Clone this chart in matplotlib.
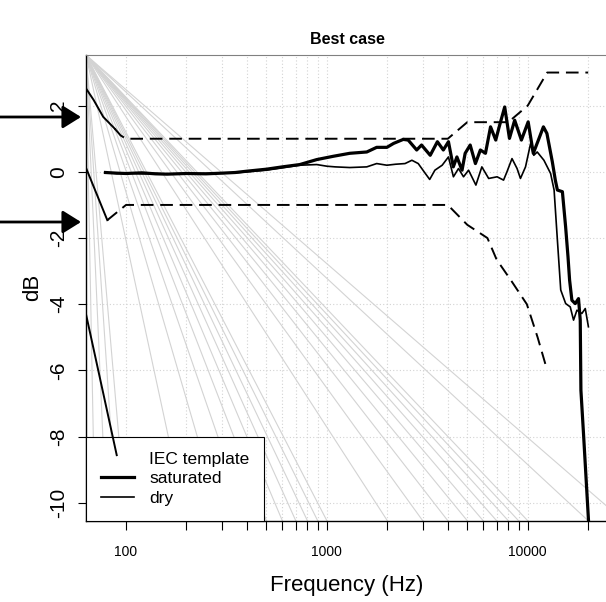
import matplotlib
matplotlib.use("Agg")
import matplotlib.pyplot as plt
from matplotlib.lines import Line2D
from matplotlib.ticker import NullFormatter

plt.rcParams['font.family'] = ['Liberation Sans', 'DejaVu Sans']

# measured response, saturated condition
sat_f = [79, 90, 100, 120, 140, 160, 200, 250, 300, 350, 400, 500, 600, 733, 890,
         1076, 1300, 1580, 1770, 1990, 2150, 2400, 2540, 2800, 2960, 3270, 3550,
         3800, 4030, 4260, 4440, 4710, 4880, 5170, 5490, 5810, 6160, 6530, 6930,
         7210, 7680, 8110, 8610, 9300, 10050, 10660, 11300, 11970, 12460, 13260,
         13720, 14050, 14880, 15440, 15870, 16160, 16590, 17240, 17900, 18260,
         18400, 18950, 20100]
sat_db = [-0.02, -0.04, -0.05, -0.03, -0.06, -0.07, -0.05, -0.06, -0.04, -0.02,
          0.02, 0.08, 0.15, 0.22, 0.37, 0.47, 0.56, 0.60, 0.74, 0.74, 0.86, 0.98,
          0.96, 0.66, 0.81, 0.50, 0.91, 0.66, 0.91, 0.15, 0.45, 0.05, 0.56, 0.81,
          0.25, 0.66, 0.56, 1.36, 0.96, 1.36, 1.96, 1.01, 1.56, 0.96, 1.51, 0.56,
          0.96, 1.36, 1.16, 0.30, -0.25, -0.55, -0.60, -1.66, -2.57, -3.27, -3.88,
          -3.98, -3.83, -4.48, -6.6, -7.9, -10.6]

# measured response, dry condition
dry_f = [79, 90, 100, 120, 140, 160, 200, 250, 300, 350, 400, 500, 600, 733, 890,
         1000, 1100, 1300, 1580, 1770, 1990, 2200, 2450, 2650, 2850, 3050, 3250,
         3450, 3750, 4030, 4266, 4522, 4790, 5075, 5520, 5910, 6390, 7040, 7580,
         7880, 8350, 8850, 9200, 9750, 10330, 10720, 11150, 12040, 13000, 13530,
         14050, 14600, 15450, 16280, 16910, 17580, 18600, 19340, 20050]
dry_db = [-0.02, -0.05, -0.03, -0.06, -0.05, -0.07, -0.06, -0.05, -0.04, -0.03,
          0.0, 0.05, 0.12, 0.20, 0.22, 0.17, 0.15, 0.13, 0.15, 0.25, 0.20, 0.23,
          0.25, 0.35, 0.25, 0.0, -0.23, 0.05, 0.20, 0.45, -0.15, 0.10, -0.15, 0.05,
          -0.40, 0.15, -0.20, -0.15, -0.25, 0.0, 0.40, 0.10, -0.20, 0.15, 0.85,
          0.50, 0.60, 0.35, -0.05, -0.55, -2.06, -3.57, -3.98, -4.08, -4.48,
          -4.18, -4.28, -4.13, -4.68]

# IEC template limits
upper_solid_f = [63.2, 69, 77, 88]
upper_solid_db = [2.52, 2.17, 1.66, 1.30]
upper_f = [88, 94, 100, 4000, 5000, 8000, 10000, 12500, 20000]
upper_db = [1.30, 1.10, 1.0, 1.0, 1.5, 1.5, 2.0, 3.0, 3.0]
lower_solid_f = [63.2, 80.7]
lower_solid_db = [0.12, -1.46]
lower_f = [80.7, 100, 4000, 5000, 6300, 7000, 8300, 9900, 11200, 12300]
lower_db = [-1.46, -1.0, -1.0, -1.6, -2.0, -2.65, -3.3, -4.0, -5.0, -5.85]
low_edge_f = [63.2, 89.9]
low_edge_db = [-4.3, -8.56]

# background guide lines end points on the bottom edge
guide_f = [70, 80, 90, 100, 200, 300, 400, 500, 600, 700, 800, 900, 1000,
           2000, 3000, 4000, 5000, 6000, 7000, 8000, 9000, 10000, 20000, 30000]

xmin, xmax = 63.2, 25100
ymin, ymax = -10.54, 3.53

W, H = 606, 602
fig = plt.figure(figsize=(W / 100, H / 100), dpi=100)
ax = fig.add_axes([86 / W, (H - 520.7) / H, (608 - 86) / W, (520.7 - 55) / H])
ax.set_xscale('log')
ax.set_xlim(xmin, xmax)
ax.set_ylim(ymin, ymax)

grey = '#d3d3d3'
major_x = [100, 1000, 10000]
minor_x = [200, 300, 400, 500, 600, 700, 800, 900, 2000, 3000, 4000, 5000,
           6000, 7000, 8000, 9000, 20000]
for f in major_x + minor_x:
    ax.axvline(f, color=grey, lw=0.8, ls=(0, (1, 2)), zorder=0.5)
for v in range(-10, 3, 2):
    ax.axhline(v, color=grey, lw=0.8, ls=(0, (1, 2)), zorder=0.5)

for f in guide_f:
    ax.plot([xmin, f], [ymax, ymin], color=grey, lw=0.8, zorder=1)

dash = (0, (6.5, 3.5))
ax.plot(upper_solid_f, upper_solid_db, color='black', lw=1.4, zorder=3)
ax.plot(upper_f, upper_db, color='black', lw=1.4, ls=dash, zorder=3)
ax.plot(lower_solid_f, lower_solid_db, color='black', lw=1.4, zorder=3)
ax.plot(lower_f, lower_db, color='black', lw=1.4, ls=dash, zorder=3)
ax.plot(low_edge_f, low_edge_db, color='black', lw=1.4, zorder=6)

ax.plot(dry_f, dry_db, color='black', lw=1.2, zorder=3)
ax.plot(sat_f, sat_db, color='black', lw=2.3, zorder=3)

ax.set_xticks(major_x)
ax.set_xticklabels(['100', '1000', '10000'])
ax.set_xticks(minor_x, minor=True)
ax.xaxis.set_minor_formatter(NullFormatter())
ax.tick_params(axis='x', which='both', length=6.5, width=0.8, pad=11, labelsize=10)
ax.set_yticks(range(-10, 3, 2))
ax.set_yticklabels([str(v) for v in range(-10, 3, 2)])
ax.tick_params(axis='y', length=6, width=0.8, pad=7, labelsize=15, labelrotation=90)
for lab in ax.get_yticklabels():
    lab.set_va('center')

ax.spines['right'].set_visible(False)
ax.spines['top'].set_color('#808080')
for s in ['left', 'bottom']:
    ax.spines[s].set_color('black')
    ax.spines[s].set_linewidth(1.0)

handles = [Line2D([], [], color='none'),
           Line2D([], [], color='black', lw=2.3),
           Line2D([], [], color='black', lw=1.2)]
leg = ax.legend(handles, ['IEC template', 'saturated', 'dry'], loc='lower left',
                borderaxespad=0, fontsize=12.5, frameon=True, fancybox=False,
                edgecolor='black', framealpha=1, borderpad=0.85, handlelength=1.9,
                handletextpad=0.9, labelspacing=0.25)
leg.get_frame().set_linewidth(0.8)
leg.set_zorder(5)

fig.text(347 / W, 1 - 40 / H, 'Best case', ha='center', va='center',
         fontsize=11.5, fontweight='bold')
fig.text(347 / W, 1 - 586 / H, 'Frequency (Hz)', ha='center', va='center', fontsize=16)
fig.text(33 / W, 1 - 287 / H, 'dB', ha='center', va='center', rotation=90, fontsize=16)

for yy in [117, 222]:
    ax.annotate('', xy=(81, H - yy), xycoords='figure pixels',
                xytext=(0, H - yy), textcoords='figure pixels',
                arrowprops=dict(arrowstyle='-|>,head_length=0.4,head_width=0.25',
                                color='black', lw=2, mutation_scale=28,
                                shrinkA=0, shrinkB=0),
                annotation_clip=False)

fig.savefig('out.png', dpi=100)
